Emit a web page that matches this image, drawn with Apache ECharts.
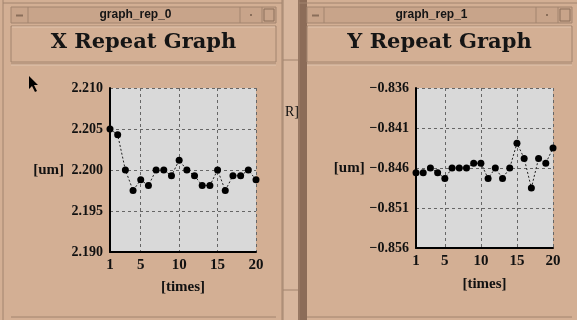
<!DOCTYPE html>
<html><head><meta charset="utf-8">
<script src="https://cdn.jsdelivr.net/npm/echarts@6/dist/echarts.min.js"></script>
<style>html,body{margin:0;padding:0;background:#d3af94}#c{width:577px;height:320px}</style>
</head><body><div id="c"></div>
<script>
// ---- data ----
const times = [1,2,3,4,5,6,7,8,9,10,11,12,13,14,15,16,17,18,19,20];
const xRepeat = [2.2050, 2.2043, 2.2000, 2.1975, 2.1988, 2.1981, 2.2000, 2.2000, 2.1993, 2.2012,
                 2.2000, 2.1993, 2.1981, 2.1981, 2.2000, 2.1975, 2.1993, 2.1993, 2.2000, 2.1988];
const yRepeat = [-0.8466, -0.8466, -0.8460, -0.8466, -0.8473, -0.8460, -0.8460, -0.8460, -0.8454, -0.8454,
                 -0.8473, -0.8460, -0.8473, -0.8460, -0.8429, -0.8448, -0.8485, -0.8448, -0.8454, -0.8435];
const xTickLabels = [1, 5, 10, 15, 20];
const xGridAt = [5, 10, 15, 20];
const xRepeatRange = [2.190, 2.210];
const yRepeatRange = [-0.856, -0.836];
const yStep = 0.005;
const windowTitles = ['graph_rep_0', 'graph_rep_1'];
const chartTitles = ['X Repeat Graph', 'Y Repeat Graph'];
const yUnit = '[um]';
const xUnit = '[times]';

// ---- style ----
const BODY = '#d3af94', BAR = '#c8a48a', DARK = '#a2846e', LIGHT = '#e2c5ae', EDGE = '#8c6c58';
const serif = 'Liberation Serif';
const fmt = v => (v < -1e-9 ? '\u2212' : '') + Math.abs(v).toFixed(3);

function xAxisCfg(gridIndex, nameGap, margin) {
  return {
    type: 'category', gridIndex, data: times.map(String), boundaryGap: false,
    name: xUnit, nameLocation: 'middle', nameGap,
    nameTextStyle: {fontFamily: serif, fontWeight: 'bold', fontSize: 15, color: '#111'},
    axisLine: {lineStyle: {color: '#000', width: 2}},
    axisTick: {show: false},
    axisLabel: {interval: (i, v) => xTickLabels.includes(+v), margin,
      fontFamily: serif, fontWeight: 'bold', fontSize: 15, color: '#111'},
    splitLine: {show: true, interval: (i, v) => xGridAt.includes(+v),
      lineStyle: {color: '#666', width: 1, type: [3, 3]}}
  };
}
function yAxisCfg(gridIndex, range) {
  return {
    type: 'value', gridIndex, min: range[0], max: range[1], interval: yStep,
    name: yUnit, nameLocation: 'middle', nameRotate: 0, nameGap: 46,
    nameTextStyle: {fontFamily: serif, fontWeight: 'bold', fontSize: 15, color: '#111'},
    axisLine: {show: true, lineStyle: {color: '#000', width: 2}},
    axisTick: {show: false},
    axisLabel: {formatter: fmt, margin: 7, fontFamily: serif, fontWeight: 'bold', fontSize: 14, color: '#111'},
    splitLine: {show: true, lineStyle: {color: '#666', width: 1, type: [3, 3]}}
  };
}
function seriesCfg(i, data) {
  return {
    type: 'line', xAxisIndex: i, yAxisIndex: i, data,
    symbol: 'circle', symbolSize: 7, showAllSymbol: true, itemStyle: {color: '#000'},
    lineStyle: {color: '#222', width: 1, type: [2, 2]}, animation: false, z: 5
  };
}

// ---- window chrome ----
function line(x1, y1, x2, y2, c, w) { return {type: 'line', shape: {x1, y1, x2, y2}, style: {stroke: c, lineWidth: w || 1}, silent: true, z: -5}; }
function rect(x, y, w, h, fill, stroke) { return {type: 'rect', shape: {x, y, width: w, height: h}, style: {fill, stroke: stroke || null, lineWidth: 1}, silent: true, z: -6}; }
function text(x, y, t, font, align) { return {type: 'text', x, y, style: {text: t, font, fill: '#151515', textAlign: align || 'center', textVerticalAlign: 'middle'}, silent: true, z: -4}; }

function windowChrome(x0, x1, title, heading) {
  const cx = (x0 + x1) / 2;
  return [
    rect(x0, 0, x1 - x0, 320, BODY),
    line(x0 - 8, 0, x0 - 8, 320, DARK), line(x1 + 6, 0, x1 + 6, 320, DARK),
    line(x0 - 8, 3, x1 + 6, 3, DARK),
    rect(x0, 7, x1 - x0, 16, BAR, DARK),
    line(x0 + 17, 7, x0 + 17, 23, DARK),
    line(x1 - 36, 7, x1 - 36, 23, DARK), line(x1 - 14, 7, x1 - 14, 23, DARK),
    line(x0 + 5, 15.5, x0 + 12, 15.5, '#8a6e5a', 2),
    rect(x1 - 12, 9, 10, 12, null, '#8a6e5a'),
    rect(x1 - 26, 14, 2, 2, '#8a6e5a'),
    text(cx - 8, 15, title, 'bold 12px "Liberation Sans"'),
    rect(x0, 26, x1 - x0, 36, BODY, DARK),
    line(x0 + 1, 27, x1 - 1, 27, LIGHT),
    line(x0, 64, x1, 64, DARK), line(x0, 65, x1, 65, LIGHT),
    line(x0, 317, x1, 317, DARK),
    text(cx, 43, heading, 'bold 21px "DejaVu Serif"')
  ];
}

const graphics = [].concat(
  [rect(0, 0, 577, 320, BODY)],
  windowChrome(11, 276, windowTitles[0], chartTitles[0]),
  [rect(283, 0, 15, 320, '#d7b69d'), line(283, 0, 283, 320, DARK),
   line(283, 60, 298, 60, DARK), line(283, 290, 298, 290, DARK),
   rect(298, 0, 9, 320, EDGE)],
  windowChrome(307, 572, windowTitles[1], chartTitles[1]),
  [{type: 'text', x: 285, y: 112, style: {text: 'R]', font: '14px "Liberation Serif"', fill: '#111', textVerticalAlign: 'middle'}, silent: true, z: -3},
   rect(280, 100, 3, 25, BODY)],
  [{type: 'polygon', shape: {points: [[29, 76], [29, 89], [32, 86], [35, 92], [37, 91], [34, 85], [38, 85]]},
    style: {fill: '#000'}, silent: true, z: 10}]
);

const chart = echarts.init(document.getElementById('c'), null, {renderer: 'canvas'});
chart.setOption({
  animation: false,
  backgroundColor: BODY,
  graphic: {elements: graphics},
  grid: [
    {left: 110, top: 88, width: 146, height: 164, show: true, backgroundColor: '#d9d9d9', borderWidth: 0, z: 0},
    {left: 416, top: 88, width: 137, height: 160, show: true, backgroundColor: '#d9d9d9', borderWidth: 0, z: 0}
  ],
  xAxis: [xAxisCfg(0, 28, 6), xAxisCfg(1, 29, 6)],
  yAxis: [yAxisCfg(0, xRepeatRange), yAxisCfg(1, yRepeatRange)],
  series: [seriesCfg(0, xRepeat), seriesCfg(1, yRepeat)]
});
</script></body></html>
